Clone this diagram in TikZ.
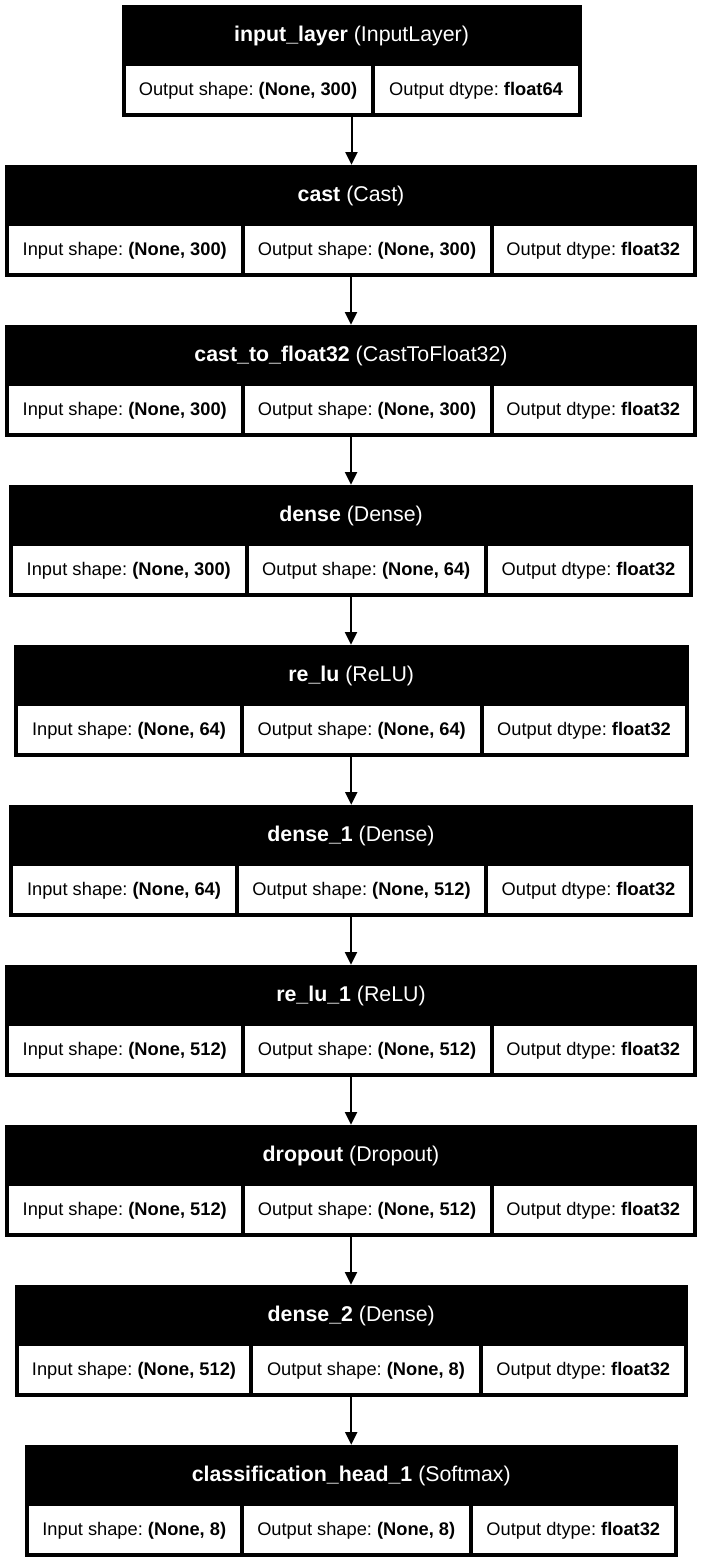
\documentclass[tikz,border=0pt]{standalone}
\usepackage{fontspec}
\setmainfont{Liberation Sans}
\usetikzlibrary{positioning,fit,arrows.meta}
\frenchspacing

% one layer: black box with its title
\newcommand{\layerbox}[5]{%
  \node[layerbox, fit={(#3,#2) (#4,#2+112)}] (#1) {};
  \node[layertitle] (#1-title) at ({(#3+#4)/2},#2+36) {#5};
}
% one white cell of a layer, and its text
\newcommand{\layercell}[5]{%
  \node[layercell, fit={(#3,#2+61) (#4,#2+108)}] (#1) {};
  \node[celltext] (#1-text) at ({(#3+#4)/2},#2+90) {#5};
}

\begin{document}
\begin{tikzpicture}[x=0.75pt, y=-0.75pt,
    layerbox/.style={fill=black, inner sep=0pt},
    layertitle/.style={text=white, font=\fontsize{16}{19}\selectfont,
        anchor=base, inner sep=0pt},
    layercell/.style={fill=white, inner sep=0pt},
    celltext/.style={font=\fontsize{13.7}{16}\selectfont, anchor=base, inner sep=0pt},
    flow/.style={-{Triangle[width=9pt,length=9.5pt]}, line width=1.5pt}]

    \path[fill=white] (0,0) rectangle (703,1563);

    % input_layer
    \layerbox{b1}{5}{121.5}{581.5}{\textbf{input\_layer} (InputLayer)}
    \layercell{b1-out}{5}{125.5}{370.5}{Output shape: \textbf{(None, 300)}}
    \layercell{b1-dt}{5}{374.5}{577.5}{Output dtype: \textbf{float64}}

    % cast
    \layerbox{b2}{165}{5}{697}{\textbf{cast} (Cast)}
    \layercell{b2-in}{165}{9}{240.5}{Input shape: \textbf{(None, 300)}}
    \layercell{b2-out}{165}{244.5}{489.5}{Output shape: \textbf{(None, 300)}}
    \layercell{b2-dt}{165}{493.5}{693}{Output dtype: \textbf{float32}}

    % cast_to_float32
    \layerbox{b3}{325}{5}{697}{\textbf{cast\_to\_float32} (CastToFloat32)}
    \layercell{b3-in}{325}{9}{240.5}{Input shape: \textbf{(None, 300)}}
    \layercell{b3-out}{325}{244.5}{489.5}{Output shape: \textbf{(None, 300)}}
    \layercell{b3-dt}{325}{493.5}{693}{Output dtype: \textbf{float32}}

    % dense
    \layerbox{b4}{485}{9}{693}{\textbf{dense} (Dense)}
    \layercell{b4-in}{485}{13}{244.5}{Input shape: \textbf{(None, 300)}}
    \layercell{b4-out}{485}{248.5}{484}{Output shape: \textbf{(None, 64)}}
    \layercell{b4-dt}{485}{488}{689}{Output dtype: \textbf{float32}}

    % re_lu
    \layerbox{b5}{645}{14}{688.5}{\textbf{re\_lu} (ReLU)}
    \layercell{b5-in}{645}{18}{240}{Input shape: \textbf{(None, 64)}}
    \layercell{b5-out}{645}{244}{479.5}{Output shape: \textbf{(None, 64)}}
    \layercell{b5-dt}{645}{483.5}{684.5}{Output dtype: \textbf{float32}}

    % dense_1
    \layerbox{b6}{805}{9}{693}{\textbf{dense\_1} (Dense)}
    \layercell{b6-in}{805}{13}{235}{Input shape: \textbf{(None, 64)}}
    \layercell{b6-out}{805}{239}{484}{Output shape: \textbf{(None, 512)}}
    \layercell{b6-dt}{805}{488}{689}{Output dtype: \textbf{float32}}

    % re_lu_1
    \layerbox{b7}{965}{5}{697}{\textbf{re\_lu\_1} (ReLU)}
    \layercell{b7-in}{965}{9}{240.5}{Input shape: \textbf{(None, 512)}}
    \layercell{b7-out}{965}{244.5}{489.5}{Output shape: \textbf{(None, 512)}}
    \layercell{b7-dt}{965}{493.5}{693}{Output dtype: \textbf{float32}}

    % dropout
    \layerbox{b8}{1125}{5}{697}{\textbf{dropout} (Dropout)}
    \layercell{b8-in}{1125}{9}{240.5}{Input shape: \textbf{(None, 512)}}
    \layercell{b8-out}{1125}{244.5}{489.5}{Output shape: \textbf{(None, 512)}}
    \layercell{b8-dt}{1125}{493.5}{693}{Output dtype: \textbf{float32}}

    % dense_2
    \layerbox{b9}{1285}{15}{687.5}{\textbf{dense\_2} (Dense)}
    \layercell{b9-in}{1285}{19}{249}{Input shape: \textbf{(None, 512)}}
    \layercell{b9-out}{1285}{253}{479}{Output shape: \textbf{(None, 8)}}
    \layercell{b9-dt}{1285}{483}{683.5}{Output dtype: \textbf{float32}}

    % classification_head_1
    \layerbox{b10}{1445}{25}{677.5}{\textbf{classification\_head\_1} (Softmax)}
    \layercell{b10-in}{1445}{29}{239.5}{Input shape: \textbf{(None, 8)}}
    \layercell{b10-out}{1445}{243.5}{469}{Output shape: \textbf{(None, 8)}}
    \layercell{b10-dt}{1445}{473}{673.5}{Output dtype: \textbf{float32}}

    % connections
    \draw[flow] (b1.south) -- (b1.south |- b2.north);
    \draw[flow] (b2.south) -- (b2.south |- b3.north);
    \draw[flow] (b3.south) -- (b3.south |- b4.north);
    \draw[flow] (b4.south) -- (b4.south |- b5.north);
    \draw[flow] (b5.south) -- (b5.south |- b6.north);
    \draw[flow] (b6.south) -- (b6.south |- b7.north);
    \draw[flow] (b7.south) -- (b7.south |- b8.north);
    \draw[flow] (b8.south) -- (b8.south |- b9.north);
    \draw[flow] (b9.south) -- (b9.south |- b10.north);
\end{tikzpicture}
\end{document}
